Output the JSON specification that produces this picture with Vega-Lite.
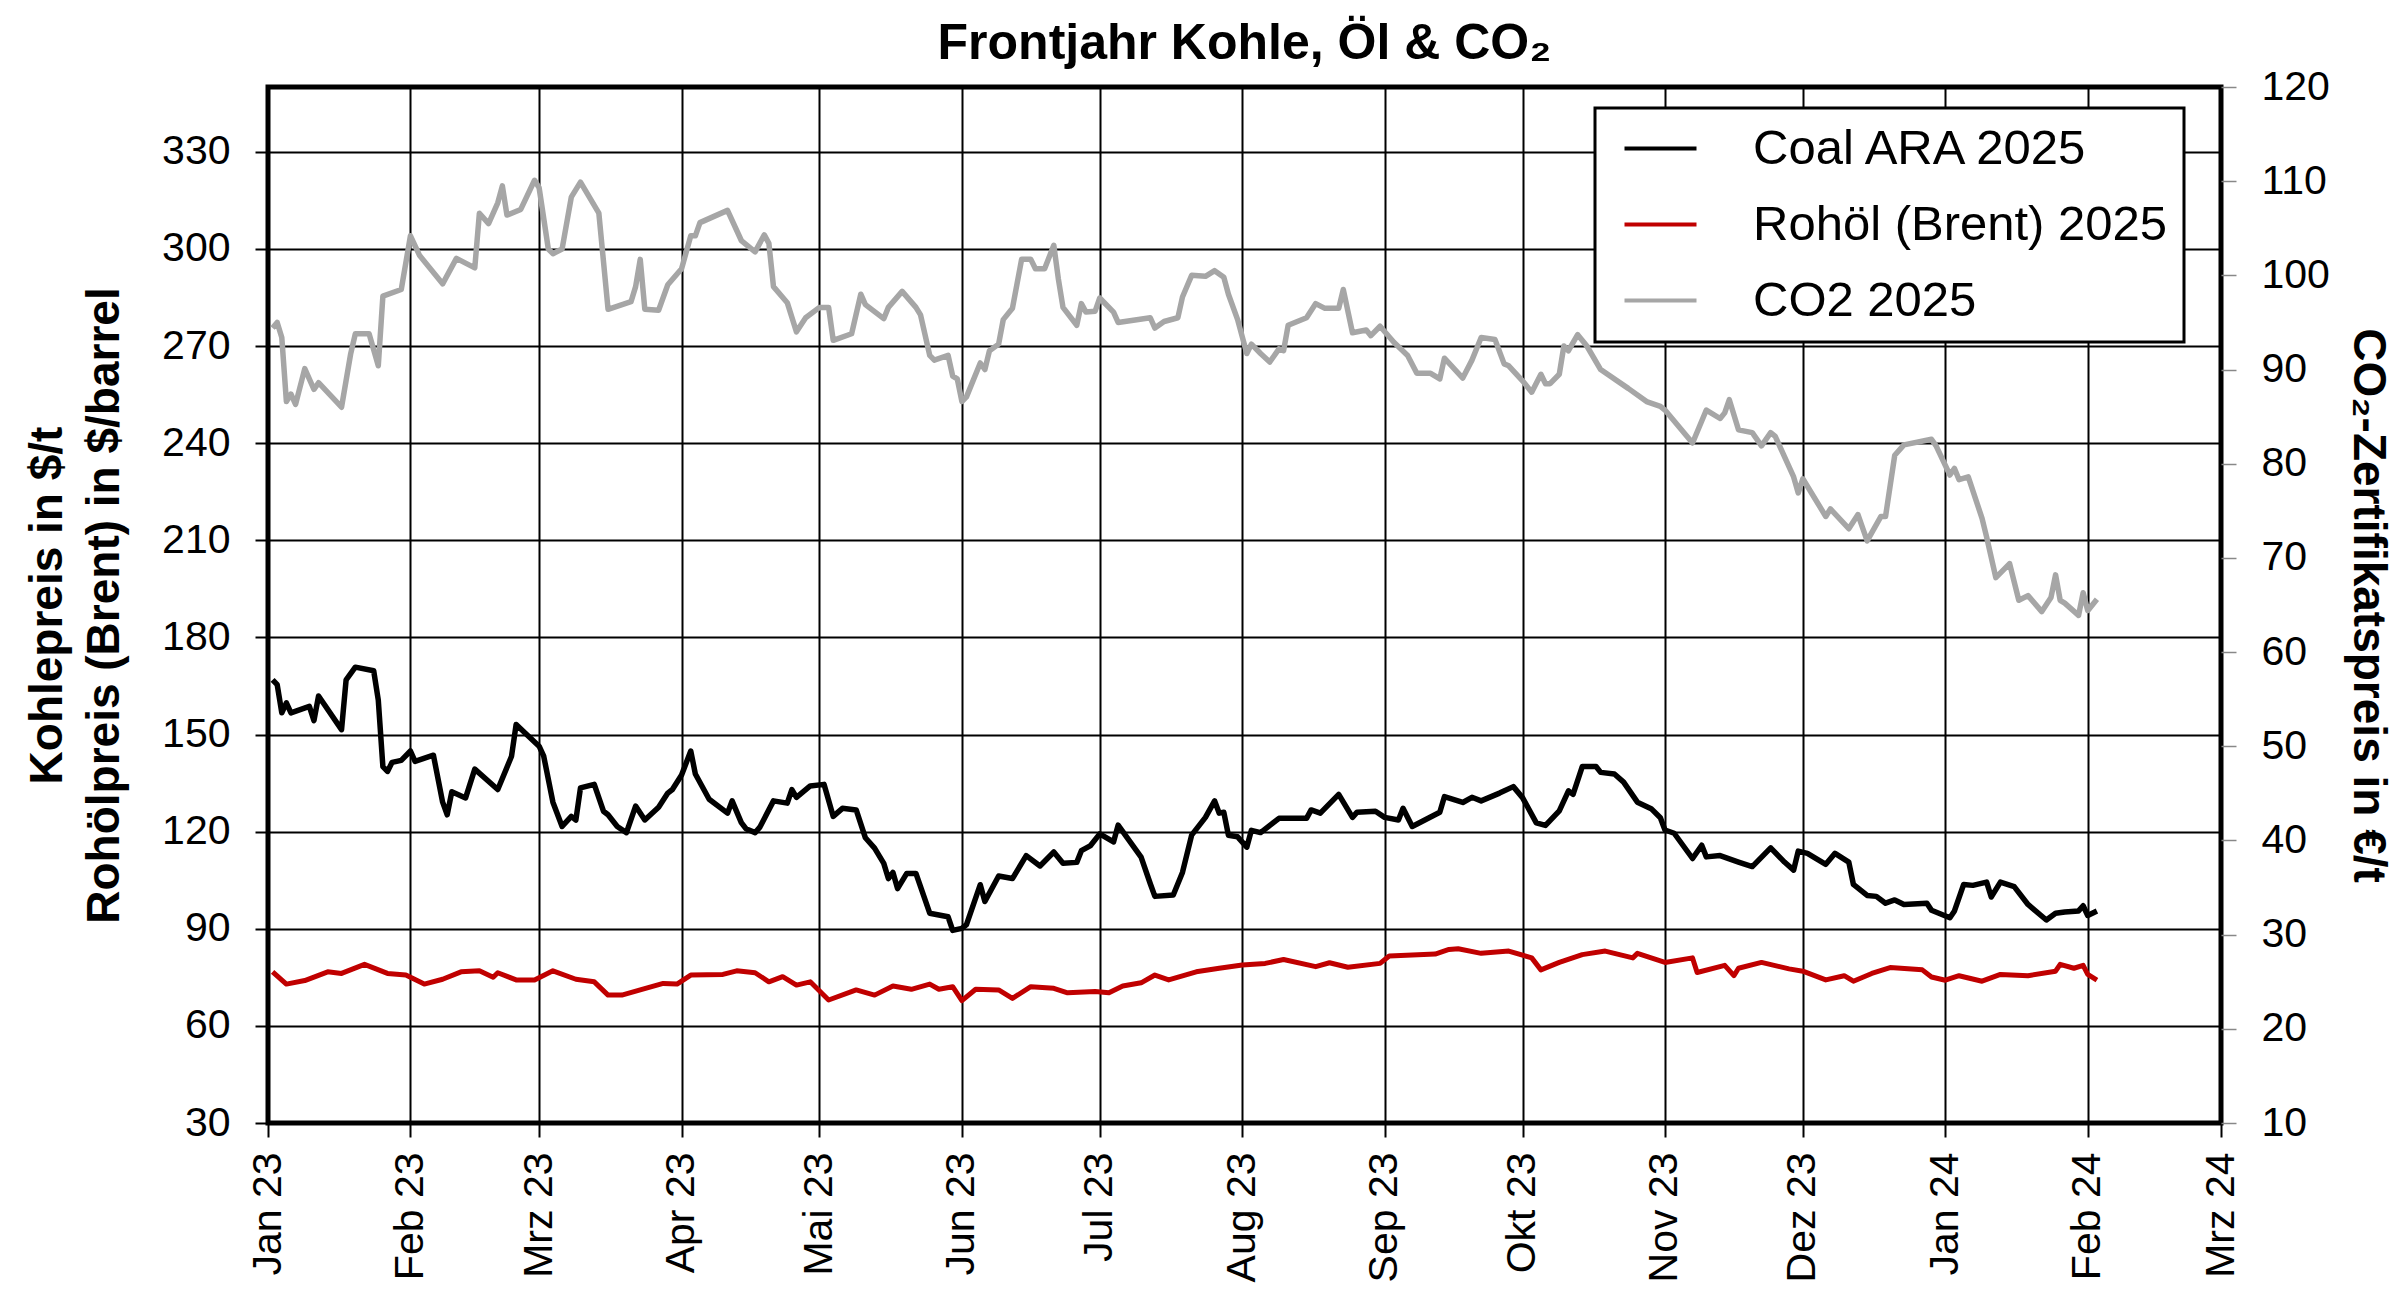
{
  "$schema": "https://vega.github.io/schema/vega-lite/v6.json",
  "description": "Frontjahr Kohle, Oel und CO2 2025",
  "autosize": {"type": "none"},
  "padding": {"left": 268, "top": 87, "right": 179, "bottom": 170},
  "width": 1953,
  "height": 1036,
  "title": {
    "text": "Frontjahr Kohle, Öl & CO₂",
    "fontSize": 50,
    "fontWeight": "bold",
    "anchor": "middle",
    "baseline": "bottom",
    "offset": -53,
    "color": "black"
  },
  "datasets": {
    "coal": [
      {"date": "2023-01-02", "value": 166.9}, {"date": "2023-01-03", "value": 165.4}, {"date": "2023-01-04", "value": 156.7},
      {"date": "2023-01-05", "value": 159.8}, {"date": "2023-01-06", "value": 156.7}, {"date": "2023-01-10", "value": 158.7},
      {"date": "2023-01-11", "value": 154.3}, {"date": "2023-01-12", "value": 161.9}, {"date": "2023-01-17", "value": 151.5},
      {"date": "2023-01-18", "value": 166.9}, {"date": "2023-01-20", "value": 170.8}, {"date": "2023-01-24", "value": 169.7},
      {"date": "2023-01-25", "value": 160.6}, {"date": "2023-01-26", "value": 140.1}, {"date": "2023-01-27", "value": 138.6},
      {"date": "2023-01-28", "value": 141.4}, {"date": "2023-01-30", "value": 142.0}, {"date": "2023-02-01", "value": 144.9},
      {"date": "2023-02-02", "value": 141.7}, {"date": "2023-02-06", "value": 143.6}, {"date": "2023-02-08", "value": 129.1},
      {"date": "2023-02-09", "value": 125.2}, {"date": "2023-02-10", "value": 132.3}, {"date": "2023-02-13", "value": 130.4},
      {"date": "2023-02-15", "value": 139.3}, {"date": "2023-02-20", "value": 133.0}, {"date": "2023-02-23", "value": 143.3},
      {"date": "2023-02-24", "value": 153.1}, {"date": "2023-02-26", "value": 150.4}, {"date": "2023-03-01", "value": 146.4},
      {"date": "2023-03-02", "value": 143.3}, {"date": "2023-03-04", "value": 129.1}, {"date": "2023-03-06", "value": 121.6},
      {"date": "2023-03-08", "value": 124.7}, {"date": "2023-03-09", "value": 123.6}, {"date": "2023-03-10", "value": 133.5},
      {"date": "2023-03-13", "value": 134.6}, {"date": "2023-03-15", "value": 126.3}, {"date": "2023-03-16", "value": 125.2},
      {"date": "2023-03-18", "value": 121.6}, {"date": "2023-03-20", "value": 119.7}, {"date": "2023-03-22", "value": 127.9},
      {"date": "2023-03-24", "value": 123.6}, {"date": "2023-03-27", "value": 127.5}, {"date": "2023-03-29", "value": 131.9},
      {"date": "2023-03-30", "value": 133.0}, {"date": "2023-04-01", "value": 137.5}, {"date": "2023-04-03", "value": 144.9},
      {"date": "2023-04-04", "value": 137.8}, {"date": "2023-04-07", "value": 130.0}, {"date": "2023-04-11", "value": 125.7},
      {"date": "2023-04-12", "value": 129.5}, {"date": "2023-04-14", "value": 122.8}, {"date": "2023-04-15", "value": 120.9},
      {"date": "2023-04-17", "value": 119.7}, {"date": "2023-04-18", "value": 121.3}, {"date": "2023-04-21", "value": 129.5},
      {"date": "2023-04-24", "value": 128.8}, {"date": "2023-04-25", "value": 133.0}, {"date": "2023-04-26", "value": 130.6},
      {"date": "2023-04-29", "value": 134.1}, {"date": "2023-05-02", "value": 134.6}, {"date": "2023-05-04", "value": 124.7},
      {"date": "2023-05-06", "value": 127.2}, {"date": "2023-05-09", "value": 126.7}, {"date": "2023-05-11", "value": 118.1},
      {"date": "2023-05-13", "value": 114.9}, {"date": "2023-05-15", "value": 110.2}, {"date": "2023-05-16", "value": 105.5},
      {"date": "2023-05-17", "value": 107.4}, {"date": "2023-05-18", "value": 102.4}, {"date": "2023-05-20", "value": 107.1},
      {"date": "2023-05-22", "value": 107.1}, {"date": "2023-05-25", "value": 94.8}, {"date": "2023-05-29", "value": 93.7},
      {"date": "2023-05-30", "value": 89.5}, {"date": "2023-06-01", "value": 90.1}, {"date": "2023-06-02", "value": 91.3},
      {"date": "2023-06-05", "value": 103.6}, {"date": "2023-06-06", "value": 98.4}, {"date": "2023-06-09", "value": 106.3},
      {"date": "2023-06-12", "value": 105.5}, {"date": "2023-06-15", "value": 112.6}, {"date": "2023-06-18", "value": 109.4},
      {"date": "2023-06-21", "value": 113.7}, {"date": "2023-06-23", "value": 110.2}, {"date": "2023-06-26", "value": 110.5},
      {"date": "2023-06-27", "value": 114.1}, {"date": "2023-06-29", "value": 115.7}, {"date": "2023-07-01", "value": 119.3},
      {"date": "2023-07-04", "value": 116.8}, {"date": "2023-07-05", "value": 122.0}, {"date": "2023-07-10", "value": 112.1},
      {"date": "2023-07-12", "value": 103.9}, {"date": "2023-07-13", "value": 100.0}, {"date": "2023-07-17", "value": 100.4},
      {"date": "2023-07-19", "value": 107.4}, {"date": "2023-07-21", "value": 118.9}, {"date": "2023-07-24", "value": 124.4},
      {"date": "2023-07-26", "value": 129.5}, {"date": "2023-07-27", "value": 125.7}, {"date": "2023-07-28", "value": 126.0},
      {"date": "2023-07-29", "value": 118.9}, {"date": "2023-07-31", "value": 118.4}, {"date": "2023-08-02", "value": 115.2},
      {"date": "2023-08-03", "value": 120.4}, {"date": "2023-08-05", "value": 119.7}, {"date": "2023-08-09", "value": 124.1},
      {"date": "2023-08-15", "value": 124.1}, {"date": "2023-08-16", "value": 126.7}, {"date": "2023-08-18", "value": 125.7},
      {"date": "2023-08-22", "value": 131.5}, {"date": "2023-08-25", "value": 124.4}, {"date": "2023-08-26", "value": 126.0},
      {"date": "2023-08-30", "value": 126.3}, {"date": "2023-09-01", "value": 124.4}, {"date": "2023-09-04", "value": 123.6},
      {"date": "2023-09-05", "value": 127.2}, {"date": "2023-09-07", "value": 121.6}, {"date": "2023-09-13", "value": 126.0},
      {"date": "2023-09-14", "value": 130.8}, {"date": "2023-09-18", "value": 129.0}, {"date": "2023-09-20", "value": 130.6},
      {"date": "2023-09-22", "value": 129.5}, {"date": "2023-09-26", "value": 131.9}, {"date": "2023-09-29", "value": 133.9},
      {"date": "2023-10-01", "value": 130.5}, {"date": "2023-10-04", "value": 122.7}, {"date": "2023-10-06", "value": 121.9},
      {"date": "2023-10-09", "value": 126.4}, {"date": "2023-10-11", "value": 132.6}, {"date": "2023-10-12", "value": 131.5},
      {"date": "2023-10-14", "value": 140.1}, {"date": "2023-10-17", "value": 140.1}, {"date": "2023-10-18", "value": 138.3},
      {"date": "2023-10-21", "value": 137.8}, {"date": "2023-10-23", "value": 135.3}, {"date": "2023-10-26", "value": 129.1},
      {"date": "2023-10-29", "value": 127.1}, {"date": "2023-10-31", "value": 124.3}, {"date": "2023-11-01", "value": 120.5},
      {"date": "2023-11-03", "value": 119.5}, {"date": "2023-11-07", "value": 111.7}, {"date": "2023-11-09", "value": 115.8},
      {"date": "2023-11-10", "value": 112.2}, {"date": "2023-11-13", "value": 112.6}, {"date": "2023-11-17", "value": 110.6},
      {"date": "2023-11-20", "value": 109.2}, {"date": "2023-11-24", "value": 115.0}, {"date": "2023-11-27", "value": 110.6},
      {"date": "2023-11-29", "value": 108.1}, {"date": "2023-11-30", "value": 114.0}, {"date": "2023-12-02", "value": 113.3},
      {"date": "2023-12-06", "value": 109.9}, {"date": "2023-12-08", "value": 113.3}, {"date": "2023-12-11", "value": 110.6},
      {"date": "2023-12-12", "value": 103.7}, {"date": "2023-12-15", "value": 100.3}, {"date": "2023-12-17", "value": 100.0},
      {"date": "2023-12-19", "value": 97.9}, {"date": "2023-12-21", "value": 98.9}, {"date": "2023-12-23", "value": 97.5},
      {"date": "2023-12-28", "value": 97.9}, {"date": "2023-12-29", "value": 95.7}, {"date": "2024-01-02", "value": 93.4},
      {"date": "2024-01-03", "value": 95.5}, {"date": "2024-01-05", "value": 103.7}, {"date": "2024-01-07", "value": 103.4},
      {"date": "2024-01-10", "value": 104.4}, {"date": "2024-01-11", "value": 99.8}, {"date": "2024-01-13", "value": 104.4},
      {"date": "2024-01-16", "value": 103.0}, {"date": "2024-01-19", "value": 97.5}, {"date": "2024-01-23", "value": 92.7},
      {"date": "2024-01-25", "value": 94.8}, {"date": "2024-01-27", "value": 95.2}, {"date": "2024-01-30", "value": 95.5},
      {"date": "2024-01-31", "value": 97.1}, {"date": "2024-02-01", "value": 94.1}, {"date": "2024-02-03", "value": 95.5}
    ],
    "oil": [
      {"date": "2023-01-02", "value": 76.7}, {"date": "2023-01-05", "value": 72.9}, {"date": "2023-01-09", "value": 74.0},
      {"date": "2023-01-14", "value": 76.7}, {"date": "2023-01-17", "value": 76.2}, {"date": "2023-01-22", "value": 79.0},
      {"date": "2023-01-27", "value": 76.2}, {"date": "2023-01-31", "value": 75.7}, {"date": "2023-02-04", "value": 72.9},
      {"date": "2023-02-08", "value": 74.4}, {"date": "2023-02-12", "value": 76.7}, {"date": "2023-02-16", "value": 77.0},
      {"date": "2023-02-19", "value": 75.0}, {"date": "2023-02-20", "value": 76.4}, {"date": "2023-02-24", "value": 74.2},
      {"date": "2023-02-28", "value": 74.2}, {"date": "2023-03-04", "value": 77.0}, {"date": "2023-03-09", "value": 74.4},
      {"date": "2023-03-13", "value": 73.6}, {"date": "2023-03-16", "value": 69.5}, {"date": "2023-03-19", "value": 69.5},
      {"date": "2023-03-23", "value": 71.1}, {"date": "2023-03-28", "value": 73.1}, {"date": "2023-03-31", "value": 72.9},
      {"date": "2023-04-03", "value": 75.7}, {"date": "2023-04-10", "value": 75.9}, {"date": "2023-04-13", "value": 77.0},
      {"date": "2023-04-17", "value": 76.4}, {"date": "2023-04-20", "value": 73.6}, {"date": "2023-04-23", "value": 75.2},
      {"date": "2023-04-26", "value": 72.6}, {"date": "2023-04-29", "value": 73.6}, {"date": "2023-05-03", "value": 68.0},
      {"date": "2023-05-09", "value": 71.1}, {"date": "2023-05-13", "value": 69.5}, {"date": "2023-05-17", "value": 72.3},
      {"date": "2023-05-21", "value": 71.3}, {"date": "2023-05-25", "value": 72.9}, {"date": "2023-05-27", "value": 71.3},
      {"date": "2023-05-30", "value": 72.1}, {"date": "2023-06-01", "value": 67.8}, {"date": "2023-06-04", "value": 71.3},
      {"date": "2023-06-09", "value": 71.1}, {"date": "2023-06-12", "value": 68.5}, {"date": "2023-06-16", "value": 72.1},
      {"date": "2023-06-21", "value": 71.6}, {"date": "2023-06-24", "value": 70.2}, {"date": "2023-06-30", "value": 70.6},
      {"date": "2023-07-03", "value": 70.2}, {"date": "2023-07-06", "value": 72.3}, {"date": "2023-07-10", "value": 73.3},
      {"date": "2023-07-13", "value": 75.7}, {"date": "2023-07-16", "value": 74.2}, {"date": "2023-07-22", "value": 76.7},
      {"date": "2023-07-27", "value": 77.8}, {"date": "2023-08-01", "value": 78.8}, {"date": "2023-08-06", "value": 79.3},
      {"date": "2023-08-10", "value": 80.5}, {"date": "2023-08-17", "value": 78.3}, {"date": "2023-08-20", "value": 79.5},
      {"date": "2023-08-24", "value": 78.1}, {"date": "2023-08-31", "value": 79.3}, {"date": "2023-09-02", "value": 81.6},
      {"date": "2023-09-12", "value": 82.2}, {"date": "2023-09-15", "value": 83.6}, {"date": "2023-09-17", "value": 83.8},
      {"date": "2023-09-22", "value": 82.4}, {"date": "2023-09-28", "value": 83.1}, {"date": "2023-10-03", "value": 81.0},
      {"date": "2023-10-05", "value": 77.3}, {"date": "2023-10-09", "value": 79.6}, {"date": "2023-10-14", "value": 82.0},
      {"date": "2023-10-19", "value": 83.1}, {"date": "2023-10-25", "value": 81.0}, {"date": "2023-10-26", "value": 82.4},
      {"date": "2023-11-01", "value": 79.6}, {"date": "2023-11-07", "value": 81.0}, {"date": "2023-11-08", "value": 76.5},
      {"date": "2023-11-14", "value": 78.7}, {"date": "2023-11-16", "value": 75.5}, {"date": "2023-11-17", "value": 77.8},
      {"date": "2023-11-22", "value": 79.6}, {"date": "2023-11-28", "value": 77.6}, {"date": "2023-12-01", "value": 76.9},
      {"date": "2023-12-06", "value": 74.2}, {"date": "2023-12-10", "value": 75.5}, {"date": "2023-12-12", "value": 73.8},
      {"date": "2023-12-16", "value": 76.2}, {"date": "2023-12-20", "value": 78.0}, {"date": "2023-12-27", "value": 77.3},
      {"date": "2023-12-29", "value": 75.1}, {"date": "2024-01-01", "value": 74.1}, {"date": "2024-01-04", "value": 75.5},
      {"date": "2024-01-09", "value": 73.8}, {"date": "2024-01-13", "value": 75.9}, {"date": "2024-01-19", "value": 75.5},
      {"date": "2024-01-25", "value": 76.9}, {"date": "2024-01-26", "value": 79.0}, {"date": "2024-01-29", "value": 77.8},
      {"date": "2024-01-31", "value": 78.7}, {"date": "2024-02-01", "value": 75.9}, {"date": "2024-02-03", "value": 74.1}
    ],
    "co2": [
      {"date": "2023-01-02", "value": 94.4}, {"date": "2023-01-03", "value": 95.0}, {"date": "2023-01-04", "value": 93.4},
      {"date": "2023-01-05", "value": 86.6}, {"date": "2023-01-06", "value": 87.4}, {"date": "2023-01-07", "value": 86.3},
      {"date": "2023-01-09", "value": 90.1}, {"date": "2023-01-11", "value": 87.9}, {"date": "2023-01-12", "value": 88.6},
      {"date": "2023-01-17", "value": 86.0}, {"date": "2023-01-19", "value": 91.7}, {"date": "2023-01-20", "value": 93.8},
      {"date": "2023-01-23", "value": 93.8}, {"date": "2023-01-25", "value": 90.4}, {"date": "2023-01-26", "value": 97.8},
      {"date": "2023-01-30", "value": 98.5}, {"date": "2023-02-01", "value": 104.2}, {"date": "2023-02-03", "value": 102.1},
      {"date": "2023-02-08", "value": 99.1}, {"date": "2023-02-11", "value": 101.8}, {"date": "2023-02-15", "value": 100.8},
      {"date": "2023-02-16", "value": 106.6}, {"date": "2023-02-18", "value": 105.5}, {"date": "2023-02-20", "value": 107.7},
      {"date": "2023-02-21", "value": 109.5}, {"date": "2023-02-22", "value": 106.4}, {"date": "2023-02-25", "value": 107.0},
      {"date": "2023-02-28", "value": 110.1}, {"date": "2023-03-01", "value": 109.3}, {"date": "2023-03-03", "value": 102.8},
      {"date": "2023-03-04", "value": 102.3}, {"date": "2023-03-06", "value": 102.8}, {"date": "2023-03-08", "value": 108.3},
      {"date": "2023-03-10", "value": 109.9}, {"date": "2023-03-14", "value": 106.6}, {"date": "2023-03-16", "value": 96.4},
      {"date": "2023-03-21", "value": 97.2}, {"date": "2023-03-22", "value": 98.8}, {"date": "2023-03-23", "value": 101.7},
      {"date": "2023-03-24", "value": 96.4}, {"date": "2023-03-27", "value": 96.3}, {"date": "2023-03-29", "value": 99.0},
      {"date": "2023-04-01", "value": 100.7}, {"date": "2023-04-03", "value": 104.2}, {"date": "2023-04-04", "value": 104.2},
      {"date": "2023-04-05", "value": 105.6}, {"date": "2023-04-11", "value": 106.9}, {"date": "2023-04-14", "value": 103.7},
      {"date": "2023-04-17", "value": 102.5}, {"date": "2023-04-19", "value": 104.3}, {"date": "2023-04-20", "value": 103.4},
      {"date": "2023-04-21", "value": 98.8}, {"date": "2023-04-24", "value": 97.1}, {"date": "2023-04-26", "value": 94.0},
      {"date": "2023-04-28", "value": 95.5}, {"date": "2023-05-01", "value": 96.6}, {"date": "2023-05-03", "value": 96.6},
      {"date": "2023-05-04", "value": 93.1}, {"date": "2023-05-08", "value": 93.8}, {"date": "2023-05-10", "value": 98.0},
      {"date": "2023-05-11", "value": 96.9}, {"date": "2023-05-15", "value": 95.4}, {"date": "2023-05-16", "value": 96.6},
      {"date": "2023-05-19", "value": 98.3}, {"date": "2023-05-22", "value": 96.6}, {"date": "2023-05-23", "value": 95.8},
      {"date": "2023-05-25", "value": 91.5}, {"date": "2023-05-26", "value": 91.0}, {"date": "2023-05-29", "value": 91.5},
      {"date": "2023-05-30", "value": 89.3}, {"date": "2023-05-31", "value": 89.0}, {"date": "2023-06-01", "value": 86.6},
      {"date": "2023-06-02", "value": 87.1}, {"date": "2023-06-05", "value": 90.7}, {"date": "2023-06-06", "value": 90.0},
      {"date": "2023-06-07", "value": 92.0}, {"date": "2023-06-09", "value": 92.7}, {"date": "2023-06-10", "value": 95.3},
      {"date": "2023-06-12", "value": 96.5}, {"date": "2023-06-14", "value": 101.7}, {"date": "2023-06-16", "value": 101.7},
      {"date": "2023-06-17", "value": 100.7}, {"date": "2023-06-19", "value": 100.7}, {"date": "2023-06-21", "value": 103.2},
      {"date": "2023-06-22", "value": 99.6}, {"date": "2023-06-23", "value": 96.6}, {"date": "2023-06-26", "value": 94.7},
      {"date": "2023-06-27", "value": 97.0}, {"date": "2023-06-28", "value": 96.1}, {"date": "2023-06-30", "value": 96.2},
      {"date": "2023-07-01", "value": 97.6}, {"date": "2023-07-04", "value": 96.1}, {"date": "2023-07-05", "value": 95.0},
      {"date": "2023-07-12", "value": 95.5}, {"date": "2023-07-13", "value": 94.4}, {"date": "2023-07-15", "value": 95.1},
      {"date": "2023-07-18", "value": 95.5}, {"date": "2023-07-19", "value": 97.7}, {"date": "2023-07-21", "value": 100.0},
      {"date": "2023-07-24", "value": 99.9}, {"date": "2023-07-26", "value": 100.5}, {"date": "2023-07-28", "value": 99.8},
      {"date": "2023-07-29", "value": 98.0}, {"date": "2023-07-31", "value": 95.3}, {"date": "2023-08-02", "value": 91.7},
      {"date": "2023-08-03", "value": 92.7}, {"date": "2023-08-05", "value": 91.7}, {"date": "2023-08-07", "value": 90.8},
      {"date": "2023-08-09", "value": 92.2}, {"date": "2023-08-10", "value": 92.0}, {"date": "2023-08-11", "value": 94.7},
      {"date": "2023-08-15", "value": 95.5}, {"date": "2023-08-17", "value": 97.0}, {"date": "2023-08-19", "value": 96.5},
      {"date": "2023-08-22", "value": 96.5}, {"date": "2023-08-23", "value": 98.5}, {"date": "2023-08-25", "value": 93.9},
      {"date": "2023-08-28", "value": 94.2}, {"date": "2023-08-29", "value": 93.6}, {"date": "2023-08-31", "value": 94.6},
      {"date": "2023-09-03", "value": 92.9}, {"date": "2023-09-06", "value": 91.5}, {"date": "2023-09-08", "value": 89.6},
      {"date": "2023-09-11", "value": 89.6}, {"date": "2023-09-13", "value": 89.0}, {"date": "2023-09-14", "value": 91.2},
      {"date": "2023-09-18", "value": 89.1}, {"date": "2023-09-20", "value": 91.0}, {"date": "2023-09-22", "value": 93.4},
      {"date": "2023-09-25", "value": 93.2}, {"date": "2023-09-27", "value": 90.6}, {"date": "2023-09-28", "value": 90.4},
      {"date": "2023-10-01", "value": 88.8}, {"date": "2023-10-03", "value": 87.6}, {"date": "2023-10-05", "value": 89.5},
      {"date": "2023-10-06", "value": 88.5}, {"date": "2023-10-07", "value": 88.5}, {"date": "2023-10-09", "value": 89.5},
      {"date": "2023-10-10", "value": 92.5}, {"date": "2023-10-11", "value": 92.0}, {"date": "2023-10-13", "value": 93.7},
      {"date": "2023-10-15", "value": 92.5}, {"date": "2023-10-18", "value": 90.0}, {"date": "2023-10-24", "value": 88.0},
      {"date": "2023-10-28", "value": 86.6}, {"date": "2023-10-31", "value": 86.1}, {"date": "2023-11-01", "value": 85.7},
      {"date": "2023-11-07", "value": 82.2}, {"date": "2023-11-10", "value": 85.7}, {"date": "2023-11-13", "value": 84.8},
      {"date": "2023-11-14", "value": 85.4}, {"date": "2023-11-15", "value": 86.8}, {"date": "2023-11-17", "value": 83.6},
      {"date": "2023-11-20", "value": 83.3}, {"date": "2023-11-22", "value": 81.9}, {"date": "2023-11-24", "value": 83.3},
      {"date": "2023-11-25", "value": 82.9}, {"date": "2023-11-29", "value": 78.6}, {"date": "2023-11-30", "value": 76.9},
      {"date": "2023-12-01", "value": 78.4}, {"date": "2023-12-06", "value": 74.4}, {"date": "2023-12-07", "value": 75.2},
      {"date": "2023-12-11", "value": 73.1}, {"date": "2023-12-13", "value": 74.6}, {"date": "2023-12-15", "value": 71.8},
      {"date": "2023-12-18", "value": 74.4}, {"date": "2023-12-19", "value": 74.4}, {"date": "2023-12-21", "value": 80.9},
      {"date": "2023-12-23", "value": 82.0}, {"date": "2023-12-29", "value": 82.6}, {"date": "2023-12-30", "value": 81.9},
      {"date": "2024-01-02", "value": 78.8}, {"date": "2024-01-03", "value": 79.5}, {"date": "2024-01-04", "value": 78.3},
      {"date": "2024-01-06", "value": 78.6}, {"date": "2024-01-09", "value": 74.2}, {"date": "2024-01-10", "value": 72.2},
      {"date": "2024-01-12", "value": 67.9}, {"date": "2024-01-15", "value": 69.4}, {"date": "2024-01-17", "value": 65.5},
      {"date": "2024-01-19", "value": 66.0}, {"date": "2024-01-22", "value": 64.3}, {"date": "2024-01-24", "value": 65.8},
      {"date": "2024-01-25", "value": 68.2}, {"date": "2024-01-26", "value": 65.5}, {"date": "2024-01-27", "value": 65.2},
      {"date": "2024-01-30", "value": 63.9}, {"date": "2024-01-31", "value": 66.3}, {"date": "2024-02-01", "value": 64.4},
      {"date": "2024-02-03", "value": 65.6}
    ]
  },
  "encoding": {
    "x": {
      "field": "date",
      "type": "temporal",
      "title": null,
      "scale": {
        "type": "utc",
        "domain": [
          {"year": 2023, "month": 1, "date": 1, "utc": true},
          {"year": 2024, "month": 3, "date": 1, "utc": true}
        ]
      },
      "axis": {
        "values": [
          {"year": 2023, "month": 1, "date": 1, "utc": true},
          {"year": 2023, "month": 2, "date": 1, "utc": true},
          {"year": 2023, "month": 3, "date": 1, "utc": true},
          {"year": 2023, "month": 4, "date": 1, "utc": true},
          {"year": 2023, "month": 5, "date": 1, "utc": true},
          {"year": 2023, "month": 6, "date": 1, "utc": true},
          {"year": 2023, "month": 7, "date": 1, "utc": true},
          {"year": 2023, "month": 8, "date": 1, "utc": true},
          {"year": 2023, "month": 9, "date": 1, "utc": true},
          {"year": 2023, "month": 10, "date": 1, "utc": true},
          {"year": 2023, "month": 11, "date": 1, "utc": true},
          {"year": 2023, "month": 12, "date": 1, "utc": true},
          {"year": 2024, "month": 1, "date": 1, "utc": true},
          {"year": 2024, "month": 2, "date": 1, "utc": true},
          {"year": 2024, "month": 3, "date": 1, "utc": true}
        ],
        "labelExpr": "['Jan','Feb','Mrz','Apr','Mai','Jun','Jul','Aug','Sep','Okt','Nov','Dez'][utcmonth(datum.value)] + ' ' + utcFormat(datum.value, '%y')",
        "labelAngle": -90,
        "labelFontSize": 41,
        "labelPadding": 15,
        "labelFlush": false,
        "labelOverlap": false,
        "labelBound": false,
        "tickSize": 14,
        "tickWidth": 2,
        "tickColor": "black",
        "grid": true,
        "gridColor": "black",
        "gridWidth": 2,
        "gridOpacity": 1,
        "domain": false
      }
    }
  },
  "layer": [
    {
      "encoding": {
        "y": {
          "field": "value",
          "type": "quantitative",
          "scale": {"domain": [30, 350], "nice": false, "zero": false},
          "axis": {
            "orient": "left",
            "values": [30, 60, 90, 120, 150, 180, 210, 240, 270, 300, 330],
            "title": ["Kohlepreis in $/t", "Rohölpreis (Brent) in $/barrel"],
            "titleFontSize": 46,
            "titleFontWeight": "bold",
            "titleLineHeight": 57,
            "titlePadding": 33,
            "labelFontSize": 41,
            "labelPadding": 25,
            "tickSize": 13,
            "tickWidth": 2,
            "tickColor": "black",
            "grid": true,
            "gridColor": "black",
            "gridWidth": 2,
            "gridOpacity": 1,
            "domain": false
          }
        }
      },
      "layer": [
        {
          "data": {"name": "oil"},
          "mark": {"type": "line", "strokeWidth": 5, "strokeJoin": "round"},
          "encoding": {"color": {"datum": "Rohöl (Brent) 2025"}}
        },
        {
          "data": {"name": "coal"},
          "mark": {"type": "line", "strokeWidth": 5.5, "strokeJoin": "round"},
          "encoding": {"color": {"datum": "Coal ARA 2025"}}
        }
      ]
    },
    {
      "data": {"name": "co2"},
      "mark": {"type": "line", "strokeWidth": 5.5, "strokeJoin": "round"},
      "encoding": {
        "y": {
          "field": "value",
          "type": "quantitative",
          "scale": {"domain": [10, 120], "nice": false, "zero": false},
          "axis": {
            "orient": "right",
            "values": [10, 20, 30, 40, 50, 60, 70, 80, 90, 100, 110, 120],
            "title": "CO₂-Zertifikatspreis in €/t",
            "titleFontSize": 46,
            "titleFontWeight": "bold",
            "titlePadding": 14,
            "labelFontSize": 41,
            "labelPadding": 25,
            "tickSize": 15,
            "tickWidth": 1.5,
            "tickColor": "#888888",
            "grid": false,
            "domain": false
          }
        },
        "color": {
          "datum": "CO2 2025",
          "scale": {
            "domain": ["Coal ARA 2025", "Rohöl (Brent) 2025", "CO2 2025"],
            "range": ["#000000", "#c00000", "#a6a6a6"]
          },
          "legend": {
            "title": null,
            "orient": "none",
            "legendX": 1327,
            "legendY": 21,
            "padding": 16,
            "fillColor": "white",
            "strokeColor": "black",
            "symbolType": "M-2,0H2",
            "symbolSize": 1296,
            "symbolStrokeWidth": 4,
            "symbolOffset": 25,
            "labelFontSize": 49,
            "labelLimit": 0,
            "labelOffset": 68,
            "labelColor": "black",
            "rowPadding": 26
          }
        }
      }
    }
  ],
  "resolve": {"scale": {"y": "independent"}},
  "config": {
    "font": "Liberation Sans",
    "view": {"stroke": "black", "strokeWidth": 5},
    "axis": {"labelColor": "black", "titleColor": "black", "labelFont": "Liberation Sans", "titleFont": "Liberation Sans"},
    "legend": {"strokeWidth": 3, "labelFont": "Liberation Sans"}
  }
}
